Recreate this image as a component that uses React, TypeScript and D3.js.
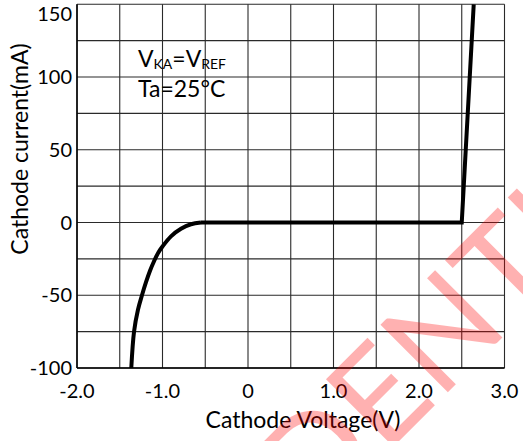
import React from "react";
import * as d3 from "d3";

const xTicks = [-2, -1, 0, 1, 2, 3];
const xTickLabels = ["-2.0", "-1.0", "0", "1.0", "2.0", "3.0"];
const xGrid = [-2, -1.5, -1, -0.5, 0, 0.5, 1, 1.5, 2, 2.5, 3];
const yTicks = [-100, -50, 0, 50, 100, 150];
const yGrid = [-100, -75, -50, -25, 0, 25, 50, 75, 100, 125, 150];

// characteristic curve (V, mA)
const voltage = [-1.365, -1.333, -1.287, -1.24, -1.193, -1.146, -1.099, -1.053, -0.994, -0.901, -0.784, -0.667, -0.55, 2.5, 2.64];
const current = [-100, -75, -60, -50, -41, -33.1, -26.6, -21.1, -16, -9.5, -4.3, -1.2, 0, 0, 150];

const W = 523;
const H = 441;
const FONT = "Lato, 'Open Sans', sans-serif";

export default function App() {
  const x = d3.scaleLinear().domain([-2, 3]).range([77, 504.5]);
  const y = d3.scaleLinear().domain([-100, 150]).range([368, 4.3]);

  const pts: [number, number][] = voltage.map((v, i) => [v, current[i]]);
  const kneeIdx = current.indexOf(0);
  const curvePart = pts.slice(0, kneeIdx + 1);
  const linePart = pts.slice(kneeIdx);

  const curveGen = d3
    .line<[number, number]>()
    .x((d) => x(d[0]))
    .y((d) => y(d[1]))
    .curve(d3.curveCatmullRom.alpha(0.5));
  const lineGen = d3
    .line<[number, number]>()
    .x((d) => x(d[0]))
    .y((d) => y(d[1]));

  const [x0, x1] = x.range();
  const [y0, y1] = y.range();

  return (
    <svg
      width={W}
      height={H}
      style={{ position: "absolute", left: 0, top: 0, background: "#fff" }}
      fontFamily={FONT}
    >
      <rect width={W} height={H} fill="#fff" />
      {xGrid.map((g) => (
        <line key={"xg" + g} x1={x(g)} x2={x(g)} y1={y1} y2={y0} stroke="#2a2a2a" strokeWidth={1.1} />
      ))}
      {yGrid.map((g) => (
        <line key={"yg" + g} x1={x0} x2={x1} y1={y(g)} y2={y(g)} stroke="#2a2a2a" strokeWidth={1.1} />
      ))}
      <line x1={x0} x2={x0} y1={y1} y2={y0} stroke="#000" strokeWidth={1.5} />
      <line x1={x0} x2={x1} y1={y0} y2={y0} stroke="#000" strokeWidth={1.5} />

      <path d={curveGen(curvePart) || ""} fill="none" stroke="#000" strokeWidth={4} />
      <path d={lineGen(linePart) || ""} fill="none" stroke="#000" strokeWidth={4} strokeLinejoin="miter" />

      {yTicks.map((t) => (
        <text
          key={"yt" + t}
          x={72}
          y={Math.max(y(t), 13.5)}
          dy="0.36em"
          textAnchor="end"
          fontSize={20}
          fill="#000"
        >
          {t}
        </text>
      ))}
      {xTicks.map((t, i) => (
        <text key={"xt" + t} x={x(t)} y={398} textAnchor="middle" fontSize={20} fill="#000">
          {xTickLabels[i]}
        </text>
      ))}

      <text x={138} y={67} fontSize={23} fill="#000">
        V<tspan fontSize={14} dy={2}>KA</tspan>
        <tspan dy={-2}>=V</tspan>
        <tspan fontSize={14} dy={2}>REF</tspan>
      </text>
      <text x={138} y={97} fontSize={23} fill="#000">
        Ta=25°C
      </text>

      <text x={303} y={428} textAnchor="middle" fontSize={23} fill="#000">
        Cathode Voltage(V)
      </text>
      <text
        transform="translate(28,149) rotate(-90)"
        textAnchor="middle"
        fontSize={23}
        fill="#000"
      >
        Cathode current(mA)
      </text>

      <text
        transform="translate(365,475) rotate(-45)"
        textAnchor="middle"
        fontSize={133}
        fontFamily="Lato, sans-serif"
        fill="#ff0000"
        opacity={0.3}
      >
        CONFIDENTIAL
      </text>
    </svg>
  );
}
